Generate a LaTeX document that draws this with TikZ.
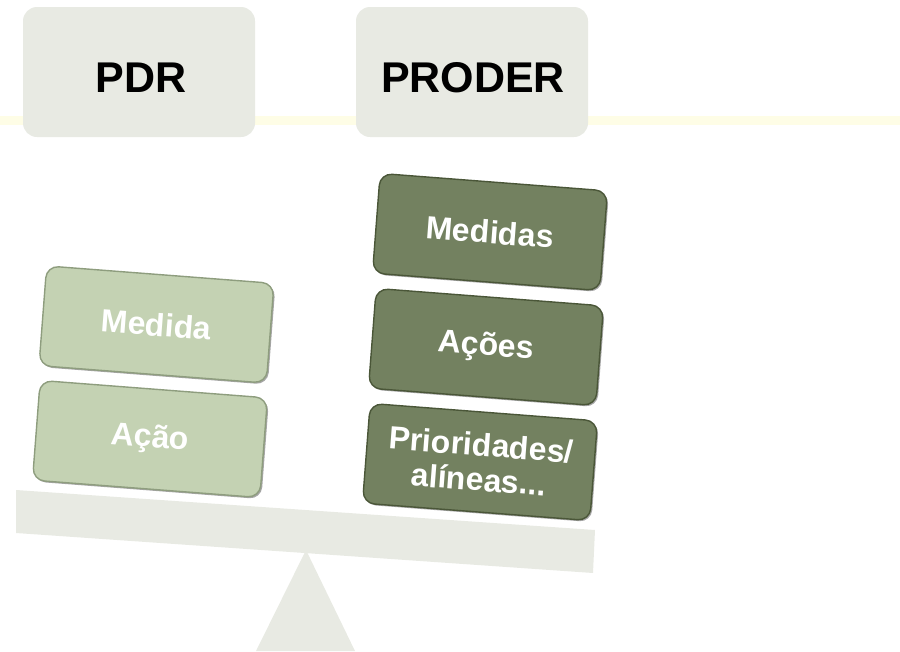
\documentclass[tikz,border=0pt]{standalone}
\usepackage{fontspec}
\setmainfont{Liberation Sans}
\usetikzlibrary{shadows}
\definecolor{pale}{HTML}{E8EAE3}
\definecolor{band}{HTML}{FEFDE6}
\definecolor{lightg}{HTML}{C4D2B3}
\definecolor{lightb}{HTML}{8E9D7E}
\definecolor{darkg}{HTML}{738160}
\definecolor{darkb}{HTML}{4A5638}
\begin{document}
\begin{tikzpicture}[x=1pt,y=-1pt,
  hdr/.style={rounded corners=14pt, fill=pale, minimum width=232pt, minimum height=130pt, inner sep=0pt},
  hdrtext/.style={inner sep=0pt, font=\bfseries\fontsize{43}{43}\selectfont},
  boxbase/.style={rounded corners=12pt, minimum width=228pt, minimum height=100pt, inner sep=2pt,
    line width=1.4pt, text=white, align=center, rotate=-4.4,
    font=\bfseries\fontsize{32}{32}\selectfont,
    drop shadow={shadow xshift=1.5pt, shadow yshift=-1.5pt, opacity=0.35, fill=black}},
  lbox/.style={boxbase, fill=lightg, draw=lightb},
  dbox/.style={boxbase, fill=darkg, draw=darkb}]
\useasboundingbox (0,0) rectangle (900,651);
% header band
\fill[band] (0,116) rectangle (900,125);
\node[hdr] (pdr) at (139,72) {};
\node[hdr] (proder) at (472,72) {};
\node[hdrtext] (pdrt) at (141,77.5) {PDR};
\node[hdrtext] (prodert) at (473,77.5) {PRODER};
% fulcrum and plank
\fill[pale] (306,550) -- (256,651) -- (355,651) -- cycle;
\fill[pale] (16,490) -- (595,530) -- (593,573) -- (16,533) -- cycle;
% left stack
\node[lbox] (medida) at (156.5,324.5) {Medida};
\node[lbox] (acao) at (150,439) {Ação};
% right stack
\node[dbox] (medidas) at (490,232) {Medidas};
\node[dbox] (acoes) at (486,347) {Ações};
\node[dbox] (prior) at (480,462) {Prioridades/\\[3pt]alíneas...};
\end{tikzpicture}
\end{document}
